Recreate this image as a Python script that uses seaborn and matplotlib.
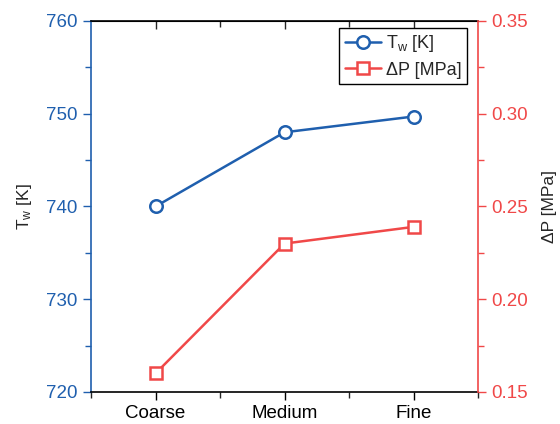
import matplotlib
matplotlib.use("Agg")
import pandas as pd
import seaborn as sns
from matplotlib import pyplot as plt
from matplotlib.ticker import MultipleLocator, FixedLocator, FormatStrFormatter

grids = ["Coarse", "Medium", "Fine"]
tw_values = [740.0, 748.0, 749.7]
dp_values = [0.160, 0.230, 0.239]

BLUE = "#1f5fae"
RED = "#f04848"

sns.set_style("white")
plt.rcParams["font.family"] = ["Liberation Sans", "DejaVu Sans"]
plt.rcParams["mathtext.fontset"] = "custom"
plt.rcParams["mathtext.rm"] = "Liberation Sans"
plt.rcParams["mathtext.it"] = "Liberation Sans"

df = pd.DataFrame({"grid": grids, "tw": tw_values, "dp": dp_values})

fig = plt.figure(figsize=(5.6, 4.24), dpi=100)
ax = fig.add_axes([0.1625, 0.0755, 0.6911, 0.875])
ax2 = ax.twinx()

sns.lineplot(data=df, x="grid", y="tw", ax=ax, color=BLUE, marker="o",
             markersize=9, markerfacecolor="white", markeredgecolor=BLUE,
             markeredgewidth=1.8, linewidth=1.8, sort=False,
             label="T$_\\mathrm{w}$ [K]", legend=False)
sns.lineplot(data=df, x="grid", y="dp", ax=ax2, color=RED, marker="s",
             markersize=8, markerfacecolor="white", markeredgecolor=RED,
             markeredgewidth=1.8, linewidth=1.8, sort=False,
             label="ΔP [MPa]", legend=False)

ax.set_xlim(-0.5, 2.5)
ax.set_ylim(720, 760)
ax2.set_ylim(0.15, 0.35)

ax.set_xlabel("")
ax.set_ylabel("T$_\\mathrm{w}$ [K]", fontsize=12.5, labelpad=9)
ax2.set_ylabel("ΔP [MPa]", fontsize=12.5, labelpad=10)

ax.yaxis.set_major_locator(MultipleLocator(10))
ax.yaxis.set_minor_locator(MultipleLocator(5))
ax2.yaxis.set_major_locator(MultipleLocator(0.05))
ax2.yaxis.set_minor_locator(MultipleLocator(0.025))
ax2.yaxis.set_major_formatter(FormatStrFormatter("%.2f"))
ax.xaxis.set_minor_locator(FixedLocator([-0.5, 0.5, 1.5, 2.5]))

ax.tick_params(axis="x", which="major", direction="out", length=6, width=1,
               labelsize=13.5, colors="black", bottom=True, top=False)
ax.tick_params(axis="x", which="minor", direction="out", length=4, width=1,
               bottom=True, top=False)
ax.tick_params(axis="y", which="major", direction="out", length=6, width=1,
               labelsize=13.5, colors=BLUE, left=True)
ax.tick_params(axis="y", which="minor", direction="out", length=4, width=1,
               colors=BLUE, left=True)
ax2.tick_params(axis="y", which="major", direction="out", length=6, width=1,
                labelsize=13.5, colors=RED, right=True)
ax2.tick_params(axis="y", which="minor", direction="out", length=4, width=1,
                colors=RED, right=True)

top = ax.secondary_xaxis("top")
top.set_xticks([0, 1, 2], labels=["", "", ""])
top.xaxis.set_minor_locator(FixedLocator([0.5, 1.5]))
top.tick_params(which="major", direction="in", length=6, width=1)
top.tick_params(which="minor", direction="in", length=4, width=1)
top.spines["top"].set_color("black")

for a in (ax, ax2):
    for s in a.spines.values():
        s.set_linewidth(1.2)
ax.spines["left"].set_color(BLUE)
ax.spines["bottom"].set_color("black")
ax.spines["top"].set_color("black")
ax2.spines["right"].set_color(RED)
ax2.spines["left"].set_visible(False)
ax2.spines["top"].set_visible(False)
ax2.spines["bottom"].set_visible(False)
ax.spines["right"].set_visible(False)

h1, l1 = ax.get_legend_handles_labels()
h2, l2 = ax2.get_legend_handles_labels()
leg = ax2.legend(h1 + h2, l1 + l2, loc="upper right", fontsize=13,
                 frameon=True, fancybox=False, edgecolor="black",
                 framealpha=1, borderpad=0.3, handlelength=2.0,
                 handletextpad=0.3, labelspacing=0.4, borderaxespad=0,
                 bbox_to_anchor=(0.972, 0.981))
leg.get_frame().set_linewidth(1.0)

fig.savefig("out.png", dpi=100)
